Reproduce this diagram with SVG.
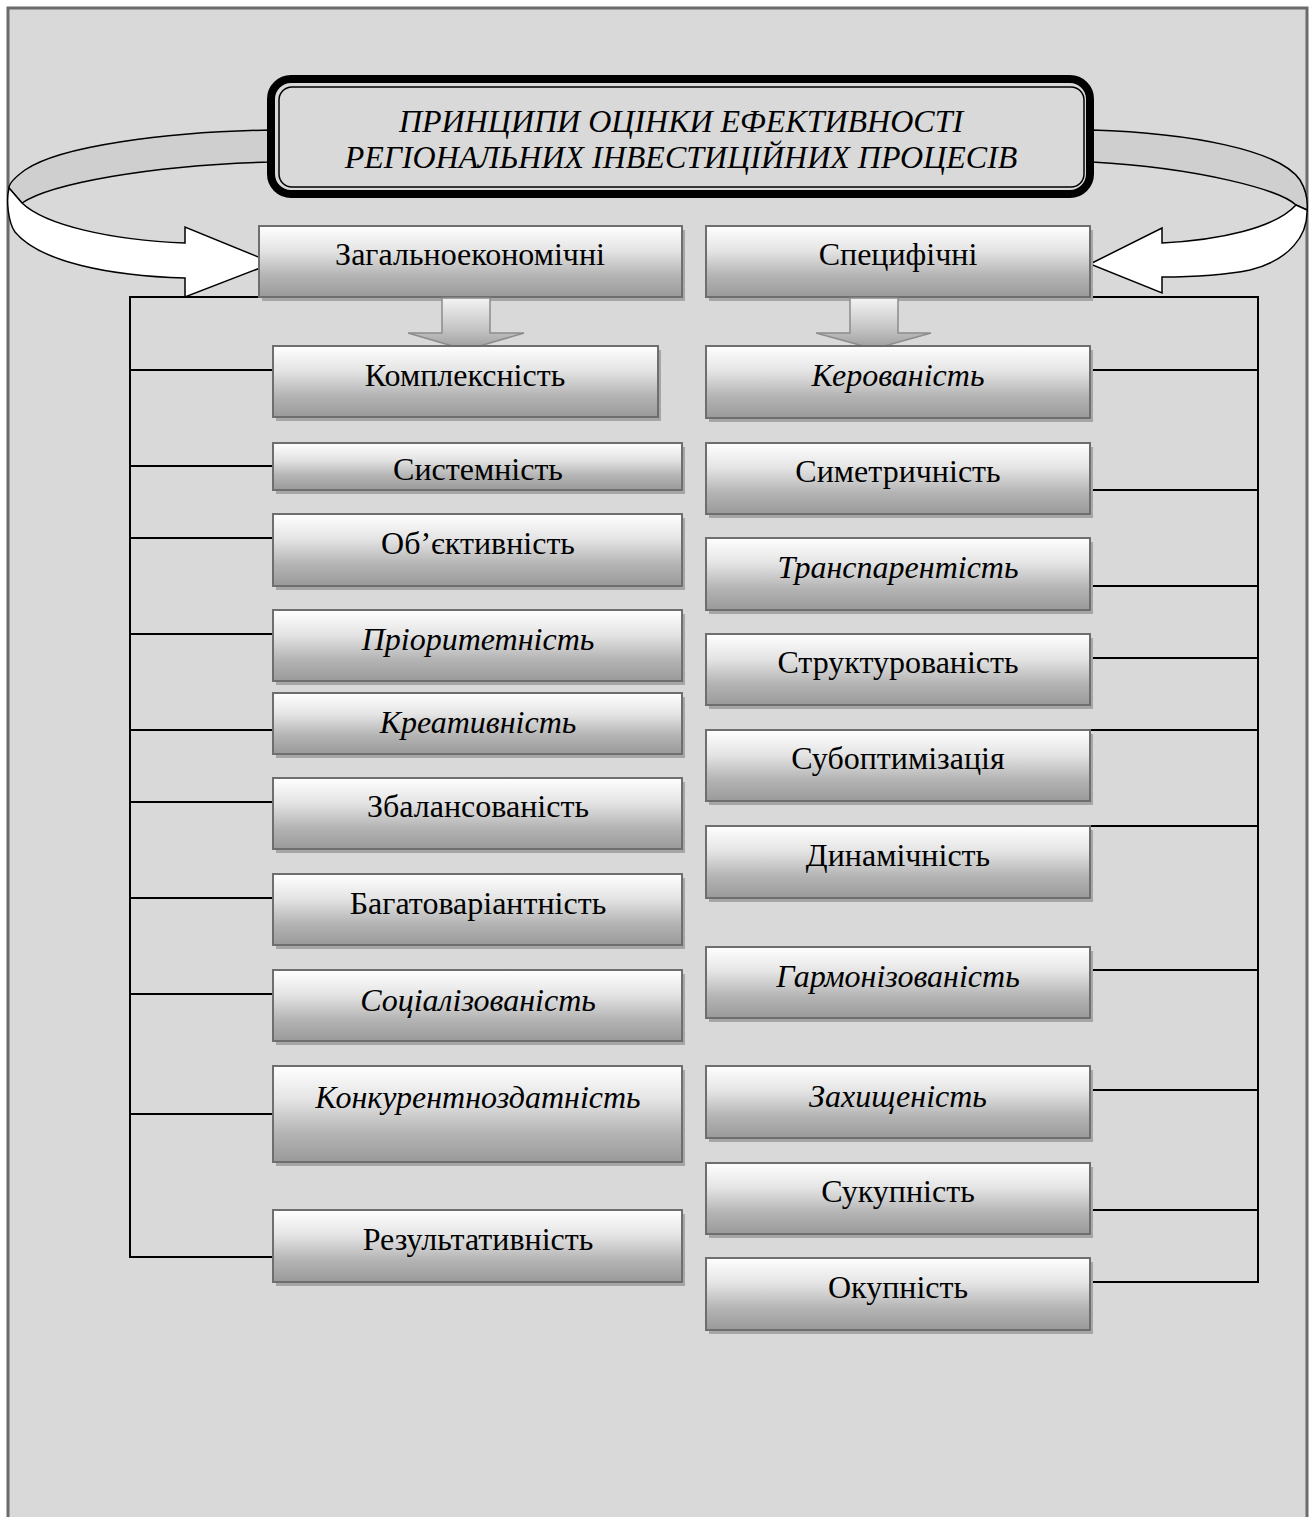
<svg xmlns="http://www.w3.org/2000/svg" width="1315" height="1517" viewBox="0 0 1315 1517">
  <defs>
    <linearGradient id="boxFill" x1="0" y1="0" x2="0" y2="1">
      <stop offset="0" stop-color="#ffffff"/>
      <stop offset="0.35" stop-color="#e4e4e4"/>
      <stop offset="0.7" stop-color="#b4b4b4"/>
      <stop offset="1" stop-color="#9a9a9a"/>
    </linearGradient>
    <linearGradient id="arrowFill" x1="0" y1="0" x2="0" y2="1">
      <stop offset="0" stop-color="#f4f4f4"/>
      <stop offset="0.6" stop-color="#c4c4c4"/>
      <stop offset="1" stop-color="#9c9c9c"/>
    </linearGradient>
    <style>
      .shadow { fill: #a6a6a6; }
      .box { fill: url(#boxFill); stroke: #6e6e6e; stroke-width: 2; }
      .lbl { font-family: "Liberation Serif", "Times New Roman", serif; font-size: 32px; fill: #000; text-anchor: middle; }
      .it { font-style: italic; }
      .title { font-family: "Liberation Serif", "Times New Roman", serif; font-size: 32px; font-style: italic; fill: #000; text-anchor: middle; }
      .link { fill: none; stroke: #000; stroke-width: 2; }
      .ribbonBack { fill: #cfcfcf; stroke: #000; stroke-width: 1.5; stroke-linejoin: round; }
      .ribbonFront { fill: #ffffff; stroke: #000; stroke-width: 1.5; stroke-linejoin: miter; }
      .down { fill: url(#arrowFill); stroke: #8c8c8c; stroke-width: 1.5; }
    </style>
  </defs>

  <!-- page -->
  <rect x="0" y="0" width="1315" height="1517" fill="#ffffff"/>
  <rect x="8" y="8" width="1299" height="1530" fill="#d9d9d9" stroke="#6b6b6b" stroke-width="3"/>

  <!-- curved ribbon arrows from the heading to the two groups -->
  <g id="ribbon-left">
    <path class="ribbonBack" d="M270,130 C165,132 60,146 25,170 C14,178 9,183 9,188 L22,203 C50,184 150,165 270,162 Z"/>
    <path class="ribbonFront" d="M9,188 L22,203 C45,225 110,240 185,243 L185,227 L273,263 L185,297 L185,278 C110,276 40,262 15,232 C8,222 6,200 9,188 Z"/>
  </g>
  <g id="ribbon-right">
    <path class="ribbonBack" d="M1092,130 C1190,133 1280,150 1300,180 C1306,190 1308,200 1307,210 L1296,205 C1280,190 1200,168 1092,162 Z"/>
    <path class="ribbonFront" d="M1307,210 C1308,235 1290,260 1250,270 C1220,276 1190,277 1162,277 L1162,293 L1090,264 L1162,228 L1162,243 C1220,240 1275,228 1296,205 Z"/>
  </g>

  <!-- heading -->
  <g id="heading">
    <rect x="271" y="79" width="819" height="115" rx="20" ry="20" fill="#d9d9d9" stroke="#000" stroke-width="8"/>
    <rect x="279" y="87" width="805" height="100" rx="13" ry="13" fill="#d9d9d9" stroke="#000" stroke-width="1.5"/>
    <text class="title" x="681" y="132">ПРИНЦИПИ ОЦІНКИ ЕФЕКТИВНОСТІ</text>
    <text class="title" x="681" y="168">РЕГІОНАЛЬНИХ ІНВЕСТИЦІЙНИХ ПРОЦЕСІВ</text>
  </g>

  <!-- connectors -->
  <g id="connectors">
    <path class="link" d="M273,297 H130 V1257 H273"/>
    <path class="link" d="M130,370 H273 M130,466 H273 M130,538 H273 M130,634 H273 M130,730 H273 M130,802 H273 M130,898 H273 M130,994 H273 M130,1114 H273"/>
    <path class="link" d="M1090,297 H1258 V1282 H1090"/>
    <path class="link" d="M1090,370 H1258 M1090,490 H1258 M1090,586 H1258 M1090,658 H1258 M1090,730 H1258 M1090,826 H1258 M1090,970 H1258 M1090,1090 H1258 M1090,1210 H1258"/>
  </g>

  <!-- group headers -->
  <g id="general">
    <rect class="shadow" x="262" y="230" width="423" height="71"/>
    <rect class="box" x="259" y="226" width="423" height="71"/>
    <text class="lbl" x="470" y="265">Загальноекономічні</text>
  </g>
  <g id="specific">
    <rect class="shadow" x="709" y="230" width="384" height="71"/>
    <rect class="box" x="706" y="226" width="384" height="71"/>
    <text class="lbl" x="898" y="265">Специфічні</text>
  </g>

  <!-- block arrows under the headers -->
  <g id="down-left">
    <path class="down" d="M442,298 H490 V333 H524 L466,350 L408,333 H442 Z"/>
  </g>
  <g id="down-right">
    <path class="down" d="M850,298 H898 V333 H931 L874,349 L816,333 H850 Z"/>
  </g>

  <!-- general principles -->
  <g id="n-kompleksnist">
    <rect class="shadow" x="276" y="350" width="385" height="71"/>
    <rect class="box" x="273" y="346" width="385" height="71"/>
    <text class="lbl" x="465" y="386">Комплексність</text>
  </g>
  <g id="n-systemnist">
    <rect class="shadow" x="276" y="447" width="409" height="47"/>
    <rect class="box" x="273" y="443" width="409" height="47"/>
    <text class="lbl" x="478" y="480">Системність</text>
  </g>
  <g id="n-obiektyvnist">
    <rect class="shadow" x="276" y="518" width="409" height="72"/>
    <rect class="box" x="273" y="514" width="409" height="72"/>
    <text class="lbl" x="478" y="554">Об’єктивність</text>
  </g>
  <g id="n-priorytetnist">
    <rect class="shadow" x="276" y="614" width="409" height="71"/>
    <rect class="box" x="273" y="610" width="409" height="71"/>
    <text class="lbl it" x="478" y="650">Пріоритетність</text>
  </g>
  <g id="n-kreatyvnist">
    <rect class="shadow" x="276" y="697" width="409" height="61"/>
    <rect class="box" x="273" y="693" width="409" height="61"/>
    <text class="lbl it" x="478" y="733">Креативність</text>
  </g>
  <g id="n-zbalansovanist">
    <rect class="shadow" x="276" y="782" width="409" height="71"/>
    <rect class="box" x="273" y="778" width="409" height="71"/>
    <text class="lbl" x="478" y="817">Збалансованість</text>
  </g>
  <g id="n-bagatovariantnist">
    <rect class="shadow" x="276" y="878" width="409" height="71"/>
    <rect class="box" x="273" y="874" width="409" height="71"/>
    <text class="lbl" x="478" y="914">Багатоваріантність</text>
  </g>
  <g id="n-sotsializovanist">
    <rect class="shadow" x="276" y="974" width="409" height="71"/>
    <rect class="box" x="273" y="970" width="409" height="71"/>
    <text class="lbl it" x="478" y="1011">Соціалізованість</text>
  </g>
  <g id="n-konkurentnozdatnist">
    <rect class="shadow" x="276" y="1070" width="409" height="96"/>
    <rect class="box" x="273" y="1066" width="409" height="96"/>
    <text class="lbl it" x="478" y="1108">Конкурентноздатність</text>
  </g>
  <g id="n-rezultatyvnist">
    <rect class="shadow" x="276" y="1214" width="409" height="72"/>
    <rect class="box" x="273" y="1210" width="409" height="72"/>
    <text class="lbl" x="478" y="1250">Результативність</text>
  </g>

  <!-- specific principles -->
  <g id="n-kerovanist">
    <rect class="shadow" x="709" y="350" width="384" height="72"/>
    <rect class="box" x="706" y="346" width="384" height="72"/>
    <text class="lbl it" x="898" y="386">Керованість</text>
  </g>
  <g id="n-symetrychnist">
    <rect class="shadow" x="709" y="447" width="384" height="71"/>
    <rect class="box" x="706" y="443" width="384" height="71"/>
    <text class="lbl" x="898" y="482">Симетричність</text>
  </g>
  <g id="n-transparentist">
    <rect class="shadow" x="709" y="542" width="384" height="72"/>
    <rect class="box" x="706" y="538" width="384" height="72"/>
    <text class="lbl it" x="898" y="578">Транспарентість</text>
  </g>
  <g id="n-strukturovanist">
    <rect class="shadow" x="709" y="638" width="384" height="71"/>
    <rect class="box" x="706" y="634" width="384" height="71"/>
    <text class="lbl" x="898" y="673">Структурованість</text>
  </g>
  <g id="n-suboptymizatsiia">
    <rect class="shadow" x="709" y="734" width="384" height="71"/>
    <rect class="box" x="706" y="730" width="384" height="71"/>
    <text class="lbl" x="898" y="769">Субоптимізація</text>
  </g>
  <g id="n-dynamichnist">
    <rect class="shadow" x="709" y="830" width="384" height="72"/>
    <rect class="box" x="706" y="826" width="384" height="72"/>
    <text class="lbl" x="898" y="866">Динамічність</text>
  </g>
  <g id="n-harmonizovanist">
    <rect class="shadow" x="709" y="951" width="384" height="71"/>
    <rect class="box" x="706" y="947" width="384" height="71"/>
    <text class="lbl it" x="898" y="987">Гармонізованість</text>
  </g>
  <g id="n-zakhyshchenist">
    <rect class="shadow" x="709" y="1070" width="384" height="72"/>
    <rect class="box" x="706" y="1066" width="384" height="72"/>
    <text class="lbl it" x="898" y="1107">Захищеність</text>
  </g>
  <g id="n-sukupnist">
    <rect class="shadow" x="709" y="1167" width="384" height="71"/>
    <rect class="box" x="706" y="1163" width="384" height="71"/>
    <text class="lbl" x="898" y="1202">Сукупність</text>
  </g>
  <g id="n-okupnist">
    <rect class="shadow" x="709" y="1262" width="384" height="72"/>
    <rect class="box" x="706" y="1258" width="384" height="72"/>
    <text class="lbl" x="898" y="1298">Окупність</text>
  </g>
</svg>
